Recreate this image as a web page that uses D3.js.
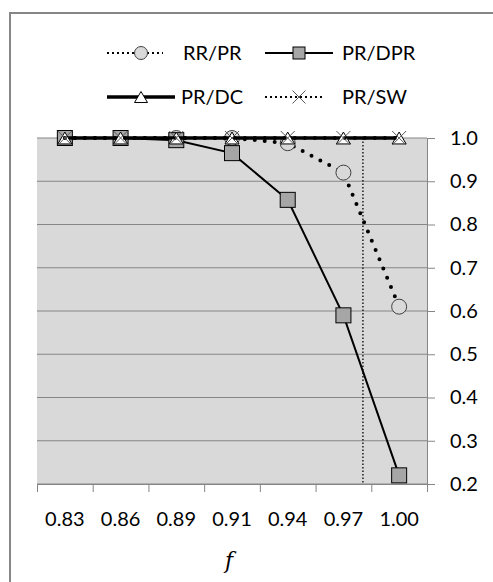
<!DOCTYPE html>
<html lang="en">
<head>
    <title>f ratio chart</title>
    <script src="https://d3js.org/d3.v7.min.js"></script>
    <style>
        body { margin: 0; background: #fff; }
        text { font-family: Lato, "Open Sans", sans-serif; fill: #000; }
    </style>
</head>
<body>
    <svg width=493 height=582></svg>
</body>
    <script>
    // values
    const categories = ["0.83", "0.86", "0.89", "0.91", "0.94", "0.97", "1.00"];
    const rrpr  = [1.0, 1.0, 1.0, 1.0, 0.988, 0.92, 0.61];
    const prdpr = [1.0, 1.0, 0.995, 0.965, 0.857, 0.59, 0.22];
    const prdc  = [1.0, 1.0, 1.0, 1.0, 1.0, 1.0, 1.0];
    const prsw  = [1.0, 1.0, 1.0, 1.0, 1.0, 1.0, 1.0];
    const yTicks = [0.2, 0.3, 0.4, 0.5, 0.6, 0.7, 0.8, 0.9, 1.0];
    const cutoffPos = 5.35;   // vertical dotted marker, in category units

    const svg = d3.select("svg");
    const pLeft = 37, pRight = 427, pTop = 138, pBottom = 484;
    const axisColor = "#868686";

    // outer frame (runs off the right and bottom edges)
    svg.append("rect")
        .attr("x", 10).attr("y", 13)
        .attr("width", 500).attr("height", 600)
        .attr("fill", "#fff")
        .attr("stroke", axisColor)
        .attr("stroke-width", 2);

    const x = d3.scaleBand().domain(categories).range([pLeft, pRight]).padding(0);
    const xEdge = d3.scaleLinear().domain([0, categories.length]).range([pLeft, pRight]);
    const xPos = d3.scaleLinear().domain([0, categories.length - 1])
        .range([x(categories[0]) + x.bandwidth() / 2, x(categories[categories.length - 1]) + x.bandwidth() / 2]);
    const y = d3.scaleLinear().domain([0.2, 1.0]).range([pBottom, pTop]);

    svg.append("rect")
        .attr("x", pLeft).attr("y", pTop)
        .attr("width", pRight - pLeft).attr("height", pBottom - pTop)
        .attr("fill", "#d9d9d9");

    // gridlines
    svg.append("g").selectAll("line")
        .data(yTicks)
        .join("line")
        .attr("x1", pLeft).attr("x2", pRight)
        .attr("y1", d => y(d)).attr("y2", d => y(d))
        .attr("stroke", axisColor).attr("stroke-width", 1);

    // y axis on the right
    const yAxis = svg.append("g")
        .attr("transform", `translate(${pRight},0)`)
        .call(d3.axisRight(y).tickValues(yTicks).tickFormat(d3.format(".1f")).tickSize(8).tickPadding(15));
    yAxis.select(".domain").attr("stroke", axisColor);
    yAxis.selectAll(".tick line").attr("stroke", axisColor);
    yAxis.selectAll("text").style("font-size", "20px").attr("fill", "#000");

    // x axis: ticks at band edges, labels at centres
    const xTicksG = svg.append("g")
        .attr("transform", `translate(0,${pBottom})`)
        .call(d3.axisBottom(xEdge).tickValues(d3.range(categories.length + 1)).tickFormat("").tickSize(8));
    xTicksG.select(".domain").attr("stroke", axisColor);
    xTicksG.selectAll(".tick line").attr("stroke", axisColor);

    const xLab = svg.append("g")
        .attr("transform", `translate(0,${pBottom})`)
        .call(d3.axisBottom(x).tickSize(0).tickPadding(28));
    xLab.select(".domain").remove();
    xLab.selectAll("text").style("font-size", "20px").attr("fill", "#000");

    svg.append("text")
        .attr("x", (pLeft + pRight) / 2 - 3).attr("y", 568)
        .attr("text-anchor", "middle")
        .style("font-family", "'DejaVu Serif', serif")
        .style("font-style", "italic")
        .style("font-size", "22px")
        .text("f");

    // vertical dotted marker
    svg.append("line")
        .attr("x1", xPos(cutoffPos)).attr("x2", xPos(cutoffPos))
        .attr("y1", pTop).attr("y2", pBottom)
        .attr("stroke", "#000").attr("stroke-width", 1.3)
        .attr("stroke-dasharray", "1.5,2");

    const line = d3.line().x((d, i) => xPos(i)).y(d => y(d));

    const series = [
        { name: "RR/PR",  values: rrpr,  width: 4,   dash: "0,10", marker: "circle" },
        { name: "PR/DPR", values: prdpr, width: 2,   dash: null,   marker: "square" },
        { name: "PR/DC",  values: prdc,  width: 3.5, dash: null,   marker: "triangle" },
        { name: "PR/SW",  values: prsw,  width: 4,   dash: "0,10", marker: "cross" }
    ];

    function drawMarker(g, type, cx, cy, s) {
        if (type === "circle") {
            g.append("circle").attr("cx", cx).attr("cy", cy).attr("r", s * 0.5)
                .attr("fill", "#d9d9d9").attr("stroke", "#404040").attr("stroke-width", 1);
        } else if (type === "square") {
            g.append("rect").attr("x", cx - s / 2).attr("y", cy - s / 2).attr("width", s).attr("height", s)
                .attr("fill", "#a6a6a6").attr("stroke", "#000").attr("stroke-width", 1);
        } else if (type === "triangle") {
            const h = s * 0.85;
            g.append("path")
                .attr("d", `M${cx},${cy - h / 2}L${cx + s / 2},${cy + h / 2}L${cx - s / 2},${cy + h / 2}Z`)
                .attr("fill", "#fff").attr("stroke", "#000").attr("stroke-width", 1);
        } else {
            const r = s / 2;
            g.append("path")
                .attr("d", `M${cx - r},${cy - r}L${cx + r},${cy + r}M${cx + r},${cy - r}L${cx - r},${cy + r}`)
                .attr("stroke", "#595959").attr("stroke-width", 1).attr("fill", "none");
        }
    }
    const markerSize = { circle: 15, square: 15, triangle: 14, cross: 14 };

    series.forEach(s => {
        const g = svg.append("g");
        g.append("path")
            .attr("d", line(s.values))
            .attr("fill", "none")
            .attr("stroke", "#000")
            .attr("stroke-width", s.width)
            .attr("stroke-linecap", s.dash ? "round" : "butt")
            .attr("stroke-dasharray", s.dash);
        s.values.forEach((v, i) => drawMarker(g, s.marker, xPos(i), y(v), markerSize[s.marker]));
    });

    // legend
    const legendItems = [
        { s: series[0], x: 107, y: 53, len: 56, tx: 183 },
        { s: series[1], x: 265, y: 53, len: 68, tx: 342 },
        { s: series[2], x: 107, y: 97, len: 68, tx: 181 },
        { s: series[3], x: 265, y: 97, len: 57, tx: 342 }
    ];
    legendItems.forEach(it => {
        const g = svg.append("g");
        g.append("line")
            .attr("x1", it.x).attr("x2", it.x + it.len)
            .attr("y1", it.y).attr("y2", it.y)
            .attr("stroke", "#000")
            .attr("stroke-width", it.s.dash ? 2 : it.s.width)
            .attr("stroke-dasharray", it.s.dash ? "2,3" : null);
        const c = it.x + (it.s.dash ? 34 : it.len / 2);
        drawMarker(g, it.s.marker, c, it.y, it.s.marker === "square" ? 12 : 13);
        g.append("text")
            .attr("x", it.tx).attr("y", it.y)
            .attr("dy", "0.36em")
            .style("font-size", "20px")
            .text(it.s.name);
    });
    </script>
</html>
